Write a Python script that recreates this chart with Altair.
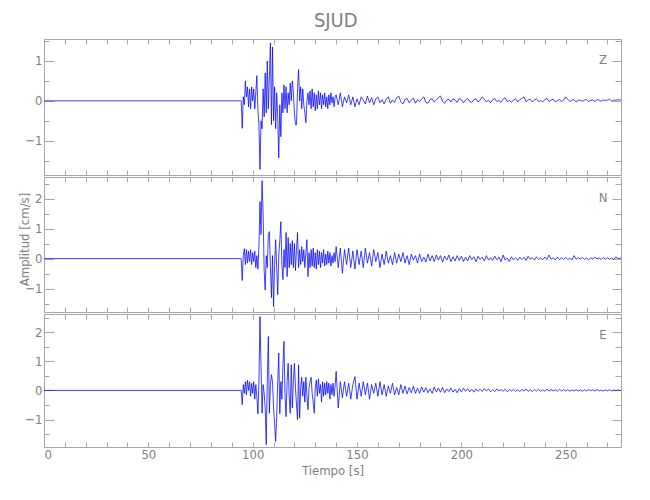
import altair as alt
import pandas as pd

TITLE = "SJUD"
X_TITLE = "Tiempo [s]"
Y_TITLE = "Amplitud [cm/s]"
X_MAX = 276.5
X_LABELS = [0, 50, 100, 150, 200, 250]
X_TICKS = [0, 10, 20, 30, 40, 50, 60, 70, 80, 90, 100, 110, 120, 130, 140,
           150, 160, 170, 180, 190, 200, 210, 220, 230, 240, 250, 260, 270]

# sample grid: flat record from 0 s, dense part from 94 s (0.5 s), coda from 140 s (1 s)
T0 = 94.0
DT_FAST = 0.5
DT_SLOW = 1.0

# ---------------- Z component ----------------
z_fast = [
    0, 0, -0.69, 0.1, -0.1, 0.5,
    0.1, 0.35, -0.15, 0.3, -0.2, 0.35,
    0.0, 0.3, -0.2, 0.2, 0.63, -0.2,
    -0.63, -1.72, -0.5, -0.7, 0.3, -0.4,
    0.7, -0.3, 1.0, -0.2, 0.6, 1.45,
    -0.6, 1.35, -0.5, 0.35, -0.7, 0.2,
    -0.4, -1.43, -0.1, -0.9, 0.2, -0.3,
    0.4, -0.2, 0.35, -0.3, 0.2, -0.1,
    0.45, 0.0, 0.5, 0.2, -0.3, -0.6,
    -0.6, 0.3, 0.78, 0.0, 0.35, -0.2,
    0.3, -0.1, -0.3, -0.55, 0.0, 0.2,
    -0.1, 0.25, -0.2, 0.3, -0.15, 0.2,
    -0.25, 0.15, -0.2, 0.25, -0.1, 0.2,
    -0.2, 0.15, -0.1, 0.2, -0.15, 0.1,
    -0.2, 0.15, -0.1, 0.2, -0.05, 0.1,
    -0.15, 0.1,
]
z_slow = [
    0.15, -0.1, 0.2, -0.15, 0.1, -0.05, 0.15, -0.1, 0.1, -0.15,
    0.05, -0.1, 0.1, 0.02, -0.08, 0.12, -0.05, 0.08, -0.1, 0.05,
    0.1, -0.05, 0.03, -0.08, 0.05, 0.1, -0.06, 0.02, -0.04, 0.08,
    0.12, -0.03, -0.08, 0.04, 0.06, -0.05, 0.02, 0.07, -0.06, 0.03,
    -0.02, 0.05, 0.1, -0.04, -0.06, 0.03, 0.05, -0.03, 0.02, 0.08,
    0.12, -0.02, -0.06, 0.02, 0.04, -0.03, 0.05, 0.02, -0.04, 0.06,
    0.03, -0.05, 0.02, 0.06, -0.02, -0.04, 0.03, 0.05, -0.03, 0.02,
    0.1, 0.04, -0.03, 0.02, -0.05, 0.03, 0.06, -0.02, 0.01, -0.04,
    0.04, 0.08, -0.02, 0.01, -0.04, 0.02, 0.05, -0.03, 0.03, 0.06,
    0.1, -0.02, 0.02, 0.04, -0.03, 0.02, 0.05, -0.02, 0.01, -0.03,
    0.03, 0.06, -0.02, 0.02, 0.04, -0.03, 0.01, 0.03, -0.02, 0.02,
    0.1, 0.04, -0.02, 0.02, 0.03, -0.03, 0.01, 0.02, -0.01, 0.02,
    0.03, -0.02, 0.01, 0.02, -0.02, 0.03, 0.02, -0.01, 0.02, 0.01,
    0.02, 0.04, -0.01, 0.02, 0.01, 0.03, 0.02, 0.03,
]

# ---------------- N component ----------------
n_fast = [
    0, 0, -0.73, 0.1, 0.33, -0.2,
    0.3, -0.15, 0.25, -0.1, 0.3, -0.2,
    0.2, -0.1, 0.25, -0.3, 0.1, -0.35,
    0.4, 1.9, 0.8, 2.6, 1.5, -0.4,
    -1.05, 0.1, -0.3, 0.8, 0.9, -0.3,
    -1.3, 0.1, -1.6, -0.2, 0.63, -0.3,
    -1.2, 0.1, 0.6, 1.23, -0.2, -0.7,
    0.3, -0.3, 0.87, -0.6, 0.7, -0.3,
    0.5, -0.2, 0.6, -0.3, 0.5, -0.4,
    0.3, 0.87, -0.3, 0.3, -0.2, 0.4,
    -0.1, 0.3, -0.3, 0.2, 0.63, -0.6,
    0.2, -0.3, 0.3, -0.25, 0.35, -0.3,
    0.2, -0.35, 0.3, -0.2, 0.25, -0.3,
    0.2, -0.15, 0.3, -0.25, 0.15, -0.2,
    0.25, -0.15, 0.2, -0.25, 0.1, -0.15,
    0.2, -0.1,
]
n_slow = [
    0.4, -0.3, 0.35, -0.49, 0.3, -0.2, 0.35, -0.3, 0.25, -0.35,
    0.3, -0.2, 0.25, -0.3, 0.35, -0.15, 0.2, -0.25, 0.3, -0.1,
    0.2, -0.3, 0.15, -0.2, 0.25, -0.15, 0.1, -0.2, 0.2, -0.15,
    0.15, -0.1, 0.2, -0.15, 0.1, -0.2, 0.15, -0.05, 0.1, -0.15,
    0.15, -0.1, 0.05, -0.12, 0.15, -0.08, 0.1, -0.1, 0.12, -0.05,
    0.1, -0.12, 0.08, -0.05, 0.12, -0.1, 0.06, -0.08, 0.1, -0.06,
    0.08, -0.1, 0.05, -0.08, 0.1, -0.04, 0.06, -0.1, 0.08, -0.03,
    0.05, -0.08, 0.1, -0.05, 0.03, -0.06, 0.08, -0.04, 0.05, -0.1,
    0.12, -0.05, 0.02, -0.1, 0.06, -0.04, 0.03, -0.06, 0.05, -0.03,
    0.04, -0.06, 0.08, -0.02, 0.03, -0.05, 0.06, -0.03, 0.02, -0.04,
    0.05, -0.03, 0.12, -0.02, 0.02, -0.04, 0.05, -0.03, 0.03, -0.02,
    0.04, -0.03, 0.02, -0.05, 0.1, -0.02, 0.03, -0.02, 0.04, -0.03,
    0.02, -0.04, 0.03, -0.02, 0.05, -0.01, 0.02, -0.03, 0.04, -0.02,
    0.03, -0.02, 0.02, -0.03, 0.06, 0.0, 0.02, 0.0,
]

# ---------------- E component ----------------
e_fast = [
    0, 0, -0.49, 0.2, -0.1, 0.3,
    -0.15, 0.35, 0.0, 0.3, -0.2, 0.25,
    -0.1, 0.3, -0.3, 0.2, -0.2, -0.8,
    0.3, 2.53, 0.82, -0.78, 0.2, -0.1,
    -0.6, -1.86, 0.3, 1.85, -0.78, 0.2,
    0.54, 0.3, -0.6, -1.12, -1.75, -0.9,
    0.3, 1.28, -0.8, 0.3, -0.3, 0.9,
    1.68, -0.2, -0.9, 0.3, 0.93, -0.2,
    -0.78, 0.88, -0.6, 0.3, 0.93, 0.1,
    -0.5, -1.0, 0.88, -0.95, 0.1, 0.45,
    -0.2, 0.3, -0.4, 0.45, -0.2, -0.66,
    0.1, 0.3, 0.45, -0.1, -0.4, -0.78,
    0.1, 0.35, -0.2, 0.4, -0.1, 0.2,
    -0.4, 0.3, -0.2, 0.25, -0.15, 0.3,
    -0.1, 0.25, -0.3, 0.2, -0.15, 0.25,
    -0.2, 0.15,
]
e_slow = [
    0.65, -0.6, 0.3, -0.25, 0.3, -0.2, 0.25, -0.3, 0.2, 0.47,
    -0.3, 0.25, -0.2, 0.3, -0.15, 0.25, -0.3, 0.2, -0.1, 0.25,
    -0.2, 0.3, -0.15, 0.2, -0.2, 0.15, -0.1, 0.25, -0.15, 0.1,
    -0.15, 0.2, -0.1, 0.15, -0.12, 0.1, -0.08, 0.15, -0.1, 0.08,
    -0.1, 0.12, -0.06, 0.1, -0.08, 0.05, -0.1, 0.12, -0.05, 0.08,
    -0.06, 0.1, -0.08, 0.05, -0.04, 0.08, -0.06, 0.04, -0.08, 0.06,
    -0.05, 0.08, -0.03, 0.06, -0.05, 0.04, -0.06, 0.05, -0.03, 0.04,
    -0.04, 0.06, -0.02, 0.05, -0.05, 0.03, -0.04, 0.05, -0.02, 0.03,
    -0.03, 0.04, -0.05, 0.03, -0.02, 0.04, -0.03, 0.02, -0.04, 0.03,
    -0.02, 0.05, -0.03, 0.02, -0.04, 0.03, -0.02, 0.04, -0.03, 0.02,
    -0.03, 0.04, -0.02, 0.03, -0.02, 0.02, -0.03, 0.04, -0.02, 0.03,
    -0.02, 0.03, -0.03, 0.02, -0.02, 0.03, -0.02, 0.02, -0.03, 0.02,
    -0.02, 0.03, -0.01, 0.02, -0.02, 0.03, -0.02, 0.01, -0.02, 0.02,
    -0.01, 0.02, -0.02, 0.01, -0.01, 0.02, -0.01, 0.0,
]

# y axis domains / labels / minor ticks per panel
Z_DOMAIN = [-1.86, 1.55]
N_DOMAIN = [-1.78, 2.72]
E_DOMAIN = [-1.94, 2.62]
Z_LABELS = [-1, 0, 1]
N_LABELS = [-1, 0, 1, 2]
E_LABELS = [-1, 0, 1, 2]
Z_MINOR = [-1.5, -0.5, 0.5, 1.5]
N_MINOR = [-1.5, -0.5, 0.5, 1.5, 2.5]
E_MINOR = [-1.5, -0.5, 0.5, 1.5, 2.5]

W = 577
GRAY = "#808080"
AXC = "#a6a6a6"
LINE = "#0000ff"
FONT = "Liberation Sans Narrow, DejaVu Sans Condensed, Arial Narrow, sans-serif"


def series_frame(fast, slow):
    t = [0.0]
    a = [0.0]
    for i, v in enumerate(fast):
        t.append(T0 + DT_FAST * i)
        a.append(v)
    t1 = T0 + DT_FAST * len(fast)
    for i, v in enumerate(slow):
        t.append(t1 + DT_SLOW * i)
        a.append(v)
    return pd.DataFrame({"t": t, "a": a})


def tick_axis(orient, values, size):
    return alt.Axis(orient=orient, values=values, labels=False, domain=False,
                    grid=False, ticks=True, tickSize=size, tickColor=AXC,
                    tickWidth=1, offset=-size, title=None)


def panel(comp, fast, slow, ydom, ylabels, yminor, h, bottom, ytitle):
    df = series_frame(fast, slow)
    ghost = pd.DataFrame({"t": [0.0], "a": [0.0]})
    xs = alt.Scale(domain=[0, X_MAX], nice=False, zero=False)
    ys = alt.Scale(domain=ydom, nice=False, zero=False)

    if bottom:
        xaxis = alt.Axis(orient="bottom", values=X_LABELS, labels=True, ticks=False,
                         domain=False, grid=False, labelPadding=1,
                         title=X_TITLE, titlePadding=3)
    else:
        xaxis = None
    if ytitle:
        yaxis = alt.Axis(orient="left", values=ylabels, ticks=False, domain=False,
                         grid=False, labelPadding=2, title=ytitle,
                         titleX=-13, titleY=62)
    else:
        yaxis = alt.Axis(orient="left", values=ylabels, ticks=False, domain=False,
                         grid=False, labelPadding=2, title=None)

    line = alt.Chart(df).mark_line(color=LINE, strokeWidth=0.75, clip=True).encode(
        x=alt.X("t:Q", scale=xs, axis=xaxis),
        y=alt.Y("a:Q", scale=ys, axis=yaxis),
    )

    def g(xax, yax):
        return alt.Chart(ghost).mark_point(opacity=0).encode(
            x=alt.X("t:Q", scale=xs, axis=xax),
            y=alt.Y("a:Q", scale=ys, axis=yax),
        )

    g1 = g(tick_axis("top", X_TICKS, 5), tick_axis("right", ylabels, 9))
    g2 = g(tick_axis("bottom", X_TICKS, 5), tick_axis("left", ylabels, 10))
    g3 = g(None, tick_axis("left", yminor, 5))
    g4 = g(None, tick_axis("right", yminor, 6))

    lab = alt.Chart(ghost).mark_text(text=comp, font=FONT, fontSize=13,
                                     color=GRAY, align="center", baseline="middle").encode(
        x=alt.value(W - 18), y=alt.value(21))

    return alt.layer(line, g1, g2, g3, g4, lab).resolve_axis(
        x="independent", y="independent").properties(width=W, height=h)


pz = panel("Z", z_fast, z_slow, Z_DOMAIN, Z_LABELS, Z_MINOR, 136, False, None)
pn = panel("N", n_fast, n_slow, N_DOMAIN, N_LABELS, N_MINOR, 135, False, Y_TITLE)
pe = panel("E", e_fast, e_slow, E_DOMAIN, E_LABELS, E_MINOR, 133, True, None)

chart = alt.vconcat(pz, pn, pe, spacing=0).properties(
    title=alt.Title(TITLE, fontSize=20, font=FONT, color=GRAY, fontWeight="normal",
                    anchor="middle", offset=7, dx=16),
    padding={"left": 9, "top": 3, "right": 5, "bottom": 5},
).configure_view(stroke=AXC, strokeWidth=1).configure_axis(
    labelFont=FONT, titleFont=FONT, labelColor=GRAY, titleColor=GRAY,
    labelFontSize=13, titleFontSize=13, titleFontWeight="normal",
).configure_concat(spacing=0)

chart.save("out.html", embed_options={"renderer": "svg", "actions": False})
